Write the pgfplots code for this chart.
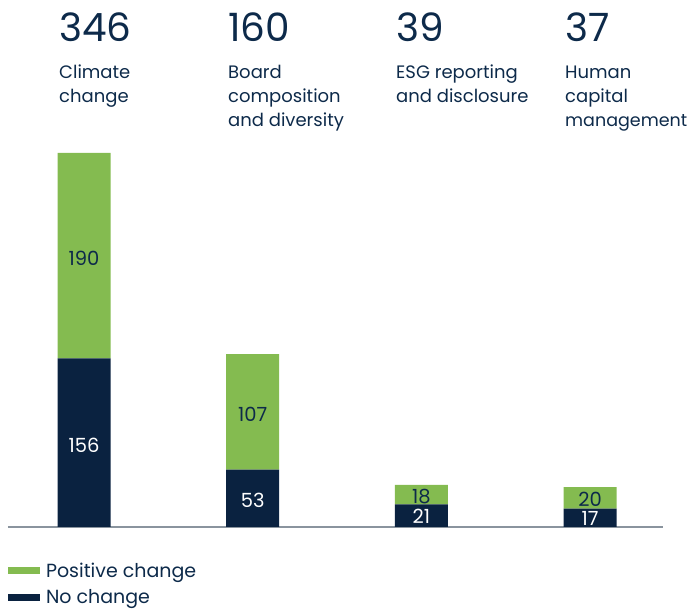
\documentclass[border=0pt]{standalone}
\usepackage{pgfplots}
\pgfplotsset{compat=1.18}
\usepackage{fontspec}
\setmainfont{Poppins}
\definecolor{cgreen}{HTML}{84BB50}
\definecolor{cnavy}{HTML}{0A2240}
\definecolor{ctext}{HTML}{0D2A4A}
\definecolor{caxis}{HTML}{8A949E}
\tikzset{vlab/.style={font=\fontsize{19.5}{20}\selectfont, anchor=center, inner sep=0pt}}
\begin{document}
\begin{tikzpicture}
\useasboundingbox (0pt,0pt) rectangle (692pt,609pt);
\begin{axis}[
  at={(8pt,82pt)}, anchor=south west,
  scale only axis, width=655pt, height=374pt,
  ybar stacked, bar width=53pt,
  xmin=-0.4505, xmax=3.432, ymin=0, ymax=346,
  axis x line=bottom, axis y line=none,
  x axis line style={-, color=caxis, line width=1.5pt},
  xtick=\empty, ytick=\empty,
  clip=false,
  reverse legend,
  legend style={at={(0,-0.090)}, anchor=north west, draw=none, fill=none,
    font=\fontsize{19}{20}\selectfont, text=ctext, inner sep=0pt, outer sep=0pt,
    row sep=7pt},
  legend cell align=left,
  legend image code/.code={\fill[#1,draw=none] (0pt,-3.5pt) rectangle (32pt,3.5pt); \path (36pt,0pt);},
  after end axis/.append code={
    \node[vlab, text=ctext] at (axis cs:0,248.5) {190};
    \node[vlab, text=ctext] at (axis cs:1,104) {107};
    \node[vlab, text=ctext] at (axis cs:2,28.5) {18};
    \node[vlab, text=ctext] at (axis cs:3,25.5) {20};
    \node[vlab, text=white] at (axis cs:0,76) {156};
    \node[vlab, text=white] at (axis cs:1,24.5) {53};
    \node[vlab, text=white] at (axis cs:2,9.5) {21};
    \node[vlab, text=white] at (axis cs:3,7.5) {17};
  },
]
\addplot[fill=cnavy, draw=none] coordinates {(0,156) (1,53) (2,21) (3,17)};
\addlegendentry{No change}
\addplot[fill=cgreen, draw=none] coordinates {(0,190) (1,107) (2,18) (3,20)};
\addlegendentry{Positive change}
\end{axis}
\begin{scope}[every node/.style={anchor=base west, inner sep=0pt, text=ctext}]
\begin{scope}[every node/.append style={font=\fontsize{39}{44}\selectfont}]
\node at (59pt,567pt) {346};
\node at (228pt,567pt) {160};
\node at (396pt,567pt) {39};
\node at (565pt,567pt) {37};
\end{scope}
\begin{scope}[every node/.append style={font=\fontsize{18}{20}\selectfont}]
\node at (59pt,530pt) {Climate};
\node at (59pt,506pt) {change};
\node at (228pt,530pt) {Board};
\node at (228pt,506pt) {composition};
\node at (228pt,482pt) {and diversity};
\node at (396pt,530pt) {ESG reporting};
\node at (396pt,506pt) {and disclosure};
\node at (565pt,530pt) {Human};
\node at (565pt,506pt) {capital};
\node[font=\fontsize{17.5}{20}\selectfont] at (565pt,482pt) {management};
\end{scope}
\end{scope}
\end{tikzpicture}
\end{document}
